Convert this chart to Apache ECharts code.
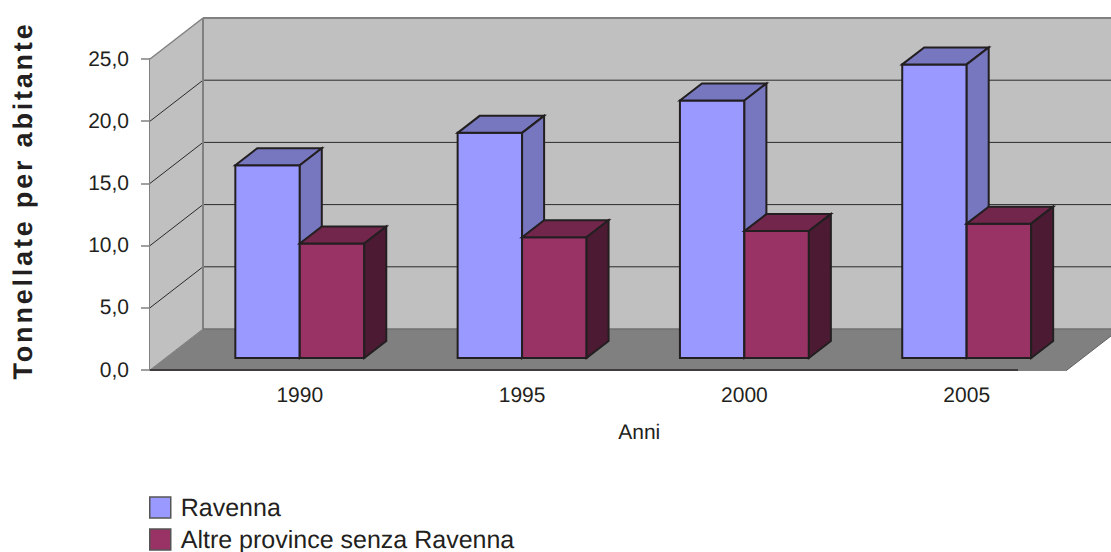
<!DOCTYPE html>
<html>
<head>
<meta charset="utf-8">
<style>
  html, body { margin: 0; padding: 0; background: #fff; }
  #chart { width: 1111px; height: 552px; }
  #chart text { text-rendering: geometricPrecision; }
</style>
<script src="https://cdn.jsdelivr.net/npm/echarts@6/dist/echarts.min.js"></script>
</head>
<body>
<div id="chart"></div>
<script>
const categories = ['1990', '1995', '2000', '2005']
const ravenna = [15.5, 18.1, 20.7, 23.6]
const altre = [9.2, 9.7, 10.2, 10.8]
const yTicks = [0, 5, 10, 15, 20, 25]

const textColor = '#231f20'
const fontFamily = '"Liberation Sans", Arial, sans-serif'
const edge = '#231f20'

// 3d look: wall depth, and where the bars sit inside the floor
const wallDx = 53
const wallDy = -41
const barInsetY = -12
const barDx = 22
const barDy = -17
const frontLeft = 150
const frontRight = 1067
const darkAxisEnd = 1018

function poly(points, fill, stroke, lineWidth) {
  return {
    type: 'polygon',
    shape: { points: points },
    style: { fill: fill, stroke: stroke, lineWidth: lineWidth || 0 }
  }
}

function line(x1, y1, x2, y2, color, width) {
  return {
    type: 'line',
    shape: { x1: x1, y1: y1, x2: x2, y2: y2 },
    style: { stroke: color, lineWidth: width }
  }
}

function renderWalls(params, api) {
  const y0 = api.coord([0, 0])[1]
  const yTop = api.coord([0, yTicks[yTicks.length - 1]])[1]
  const backL = frontLeft + wallDx
  const backR = frontRight + wallDx
  const children = [
    // back wall
    poly([[backL, yTop + wallDy], [backR, yTop + wallDy], [backR, y0 + wallDy], [backL, y0 + wallDy]], '#c0c0c0'),
    // side wall
    poly([[frontLeft, yTop], [backL, yTop + wallDy], [backL, y0 + wallDy], [frontLeft, y0]], '#c0c0c0'),
    // floor
    poly([[frontLeft, y0], [backL, y0 + wallDy], [backR, y0 + wallDy], [frontRight, y0]], '#808080')
  ]
  for (const t of yTicks) {
    const y = api.coord([0, t])[1]
    if (t > 0 && t < yTicks[yTicks.length - 1]) {
      children.push(line(frontLeft, y, backL, y + wallDy, '#2a2a2a', 1))
      children.push(line(backL, y + wallDy, backR, y + wallDy, '#2a2a2a', 1))
    }
  }
  children.push(line(frontLeft, yTop, backL, yTop + wallDy, '#808080', 1.5))
  children.push(line(backL, yTop + wallDy, backR, yTop + wallDy, '#808080', 2))
  children.push(line(backL, yTop + wallDy, backL, y0 + wallDy, '#808080', 2))
  children.push(line(frontLeft, y0, backL, y0 + wallDy, '#808080', 1))
  children.push(line(backL, y0 + wallDy, backR, y0 + wallDy, '#707070', 1.5))
  children.push(line(frontRight, y0, backR, y0 + wallDy, '#606060', 1))
  children.push(line(darkAxisEnd, y0, frontRight, y0, '#808080', 2))
  children.push(line(frontLeft, y0, darkAxisEnd, y0, '#403c3d', 2))
  return { type: 'group', children: children }
}

function makeBarRenderer(front, top, side, slot) {
  return function(params, api) {
    const base = api.coord([api.value(0), 0])
    const val = api.coord([api.value(0), api.value(1)])
    const w = api.size([1, 0])[0] * 0.29
    const x1 = base[0] + (slot - 1) * w
    const x2 = x1 + w
    const yb = base[1] + barInsetY
    const yt = val[1] + barInsetY
    return {
      type: 'group',
      children: [
        poly([[x1, yt], [x2, yt], [x2, yb], [x1, yb]], front, edge, 2),
        poly([[x1, yt], [x1 + barDx, yt + barDy], [x2 + barDx, yt + barDy], [x2, yt]], top, edge, 2),
        poly([[x2, yt], [x2 + barDx, yt + barDy], [x2 + barDx, yb + barDy], [x2, yb]], side, edge, 2)
      ]
    }
  }
}

function pairs(values) {
  return values.map(function(v, i) { return [i, v] })
}

const chart = echarts.init(document.getElementById('chart'), null, { renderer: 'svg' })
chart.setOption({
  animation: false,
  backgroundColor: '#fff',
  grid: { left: 188.65, width: 889.2, top: 59, height: 311, outerBoundsMode: 'none' },
  legend: {
    orient: 'vertical',
    left: 149,
    bottom: 0,
    itemWidth: 21,
    itemHeight: 21,
    itemGap: 7,
    padding: 0,
    icon: 'rect',
    data: ['Ravenna', 'Altre province senza Ravenna'],
    itemStyle: { borderColor: '#555', borderWidth: 1.5 },
    textStyle: { color: textColor, fontSize: 25, lineHeight: 21, fontFamily: fontFamily, padding: [0, 0, 0, 5] }
  },
  xAxis: {
    type: 'category',
    data: categories,
    axisLine: { show: false },
    axisTick: { show: false },
    axisLabel: { color: textColor, fontSize: 21, fontFamily: fontFamily, margin: 15 },
    name: 'Anni',
    nameLocation: 'middle',
    nameGap: 52,
    nameTextStyle: { color: textColor, fontSize: 21, fontFamily: fontFamily, padding: [0, 0, 0, 12] }
  },
  yAxis: {
    type: 'value',
    min: 0,
    max: 25,
    interval: 5,
    offset: 38.65,
    splitLine: { show: false },
    axisLine: { show: true, lineStyle: { color: '#555', width: 1.5 } },
    axisTick: { show: true, length: 9, lineStyle: { color: '#808080', width: 1.5 } },
    axisLabel: {
      color: textColor,
      fontSize: 21,
      fontFamily: fontFamily,
      margin: 21,
      formatter: function(value) { return value.toFixed(1).replace('.', ',') }
    },
    name: 'Tonnellate per abitante',
    nameLocation: 'middle',
    nameGap: 114,
    nameTextStyle: { color: textColor, fontSize: 27, fontWeight: 'bold', fontFamily: fontFamily, padding: [0, 0, 0, 28] }
  },
  series: [
    {
      type: 'custom',
      silent: true,
      z: 1,
      clip: false,
      renderItem: renderWalls,
      data: [[0, 0]]
    },
    {
      type: 'custom',
      name: 'Ravenna',
      z: 2,
      clip: false,
      itemStyle: { color: '#9999ff' },
      renderItem: makeBarRenderer('#9999ff', '#7777c0', '#7777c0', 0),
      data: pairs(ravenna)
    },
    {
      type: 'custom',
      name: 'Altre province senza Ravenna',
      z: 3,
      clip: false,
      itemStyle: { color: '#993366' },
      renderItem: makeBarRenderer('#993366', '#72264c', '#4c1a33', 1),
      data: pairs(altre)
    }
  ]
})

// zrender has no letter spacing option, so set it on the svg text
function spaceAxisTitle() {
  chart.getDom().querySelectorAll('text').forEach(function(el) {
    if (el.textContent === 'Tonnellate per abitante') {
      el.style.letterSpacing = '2.8px'
    }
  })
}
spaceAxisTitle()
chart.on('finished', spaceAxisTitle)
</script>
</body>
</html>
